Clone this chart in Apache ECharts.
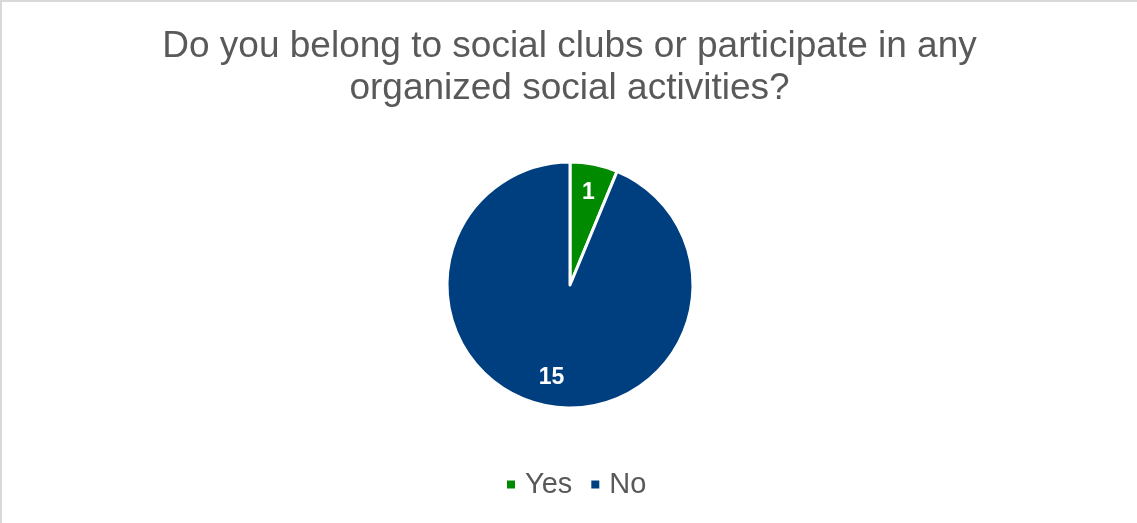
<!DOCTYPE html>
<html><head><meta charset="utf-8">
<script src="https://cdn.jsdelivr.net/npm/echarts@6/dist/echarts.min.js"></script>
<style>html,body{margin:0;padding:0;background:#fff;}#c{width:1137px;height:523px;box-sizing:border-box;border-left:2px solid #d9d9d9;border-top:2px solid #d9d9d9;}</style>
</head><body><div id="c"></div>
<script>
const categories = ["Yes", "No"];
const values = [1, 15];
const colors = ["#008A00", "#003F7F"];
const titleText = "Do you belong to social clubs or participate in any\norganized social activities?";

const chart = echarts.init(document.getElementById('c'), null, {renderer: 'canvas'});
const pieData = categories.map((c, i) => ({name: c, value: values[i], itemStyle: {color: colors[i]}}));
chart.setOption({
  animation: false,
  title: {
    text: titleText, left: 'center', top: 19,
    textStyle: {fontFamily: 'Liberation Sans, Arial', fontSize: 37, fontWeight: 'normal', color: '#595959', lineHeight: 42}
  },
  legend: {
    bottom: 24, left: 503, icon: 'rect', itemWidth: 10, itemHeight: 10, itemGap: 17,
    padding: 0,
    textStyle: {fontFamily: 'Liberation Sans, Arial', fontSize: 29, color: '#595959', padding: [0, 0, 0, 4]},
    data: categories
  },
  series: [{
    type: 'pie', center: [568, 283], radius: 123, startAngle: 90, clockwise: true,
    itemStyle: {borderColor: '#fff', borderWidth: 3},
    label: {show: false},
    labelLine: {show: false},
    data: pieData
  }, {
    type: 'pie', center: [568, 283], radius: [60, 123], startAngle: 90, clockwise: true, silent: true,
    itemStyle: {color: 'rgba(0,0,0,0)', borderWidth: 0},
    label: {show: true, position: 'inside', formatter: '{c}', color: '#fff', fontSize: 23, fontWeight: 'bold', fontFamily: 'Liberation Sans, Arial'},
    labelLine: {show: false},
    data: categories.map((c, i) => ({name: c, value: values[i], itemStyle: {color: 'rgba(0,0,0,0)'}}))
  }]
});
</script></body></html>
